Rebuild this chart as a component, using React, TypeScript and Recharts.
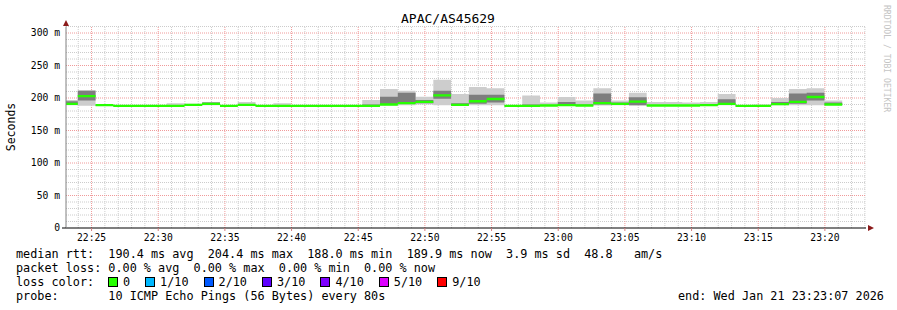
import { ComposedChart, Area, XAxis, YAxis, ReferenceLine } from "recharts"

// time axis is seconds after 22:00:00
const WINDOW_START = 1385
const WINDOW_END = 4985
const FIRST_STEP = 1438
const STEP = 80

const medianRtt = [
  191, 203, 189, 188, 188, 188, 188, 189.5, 191, 188,
  189.5, 188, 188, 188, 188, 188, 188, 188, 190, 192,
  194, 204, 189.5, 195, 198.5, 188, 188, 188.5, 189, 188.5,
  192, 191, 194.5, 188.5, 188.5, 188.5, 189, 191, 188, 188,
  190.5, 194, 201.5, 190,
]
const minRtt = [
  189, 188, 188, 187.5, 187.5, 187.5, 187.5, 188.5, 189, 187.5,
  188.5, 187.5, 187.5, 187.5, 187.5, 187.5, 187.5, 187.5, 188.5, 189,
  190, 189, 188.5, 189, 189, 187.5, 187.5, 188, 188, 188,
  188.5, 189, 188.5, 188, 188, 188, 188, 189, 187.5, 187.5,
  189, 189, 189, 189,
]
const maxRtt = [
  197, 212, 190, 189, 189, 189, 192, 191, 194, 189,
  194, 189, 192, 189, 189, 189, 189, 197, 214, 211,
  202, 228, 206, 217, 215, 189, 204, 193, 201.5, 196,
  215, 196, 208, 194, 194, 193, 194, 206, 189, 190,
  200, 214, 215, 196,
]
const innerLow = [
  190, 196, 188.5, 187.5, 187.5, 187.5, 187.5, 188.5, 190, 187.5,
  189, 187.5, 187.5, 187.5, 187.5, 187.5, 187.5, 187.5, 190, 191,
  192, 199, 188.5, 191, 193, 187.5, 187.5, 188, 188.5, 188,
  190, 190, 189, 188, 188, 188, 188.5, 189.5, 187.5, 187.5,
  189.5, 191, 196, 189.5,
]
const innerHigh = [
  195, 211, 189.5, 188.5, 188.5, 188.5, 189, 189.5, 193, 188.5,
  190, 188.5, 189, 188.5, 188.5, 188.5, 188.5, 190, 202, 208,
  197, 211, 192, 205, 205, 188.5, 190, 189, 194, 190,
  207, 193, 201, 189, 189, 189, 190, 198, 188.5, 188.5,
  194, 207, 208, 193,
]

const timeTicks = [1500, 1800, 2100, 2400, 2700, 3000, 3300, 3600, 3900, 4200, 4500, 4800]
const rttTicks = [0, 50, 100, 150, 200, 250, 300]
const lossLabels = ["0", "1/10", "2/10", "3/10", "4/10", "5/10", "9/10"]
const lossColors = ["#26ff00", "#00b8ff", "#0059ff", "#5e00ff", "#7e00ff", "#dd00ff", "#ff0000"]

const MONO = "'DejaVu Sans Mono', monospace"
const HALF_LINE = 1.8
const MAJOR = "#f09a9a"
const MINOR = "#cccccc"
const CHART_MARGIN = { top: 26.5, right: 31, left: 0, bottom: 52 }

const stepTimes = medianRtt.map((_, i) => (i === 0 ? WINDOW_START : FIRST_STEP + (i - 1) * STEP))
const rows = medianRtt.map((m, i) => ({
  t: stepTimes[i],
  outer: [minRtt[i], maxRtt[i]],
  inner: [innerLow[i], innerHigh[i]],
  med: [m - HALF_LINE, m + HALF_LINE],
}))
const last = rows[rows.length - 1]
rows.push({ ...last, t: FIRST_STEP + (medianRtt.length - 1) * STEP })

const minorX: number[] = []
for (let t = 1440; t < WINDOW_END; t += 60) if (t % 300 !== 0) minorX.push(t)
const minorY: number[] = []
for (let v = 10; v <= 310; v += 10) if (v % 50 !== 0) minorY.push(v)

const fmtTime = (t: number) => {
  const h = 22 + Math.floor(t / 3600)
  const m = Math.floor((t % 3600) / 60)
  return `${h}:${String(m).padStart(2, "0")}`
}

const footerLine = { position: "absolute" as const, left: 16, fontFamily: MONO, fontSize: 11.8, whiteSpace: "pre" as const, lineHeight: "14px", color: "#000" }
const layer = { position: "absolute" as const, left: 0, top: 0 }

// grid lives in its own chart underneath so the smoke covers it
function GridLayer() {
  return (
    <ComposedChart width={897} height={310} data={rows} margin={CHART_MARGIN}>
      <XAxis type="number" dataKey="t" domain={[WINDOW_START, WINDOW_END]} allowDataOverflow height={30} tick={false} axisLine={false} tickLine={false} />
      <YAxis type="number" domain={[0, 310]} allowDataOverflow width={66} tick={false} axisLine={false} tickLine={false} />
      {minorY.map((v) => (
        <ReferenceLine key={`mh${v}`} y={v} stroke={MINOR} strokeDasharray="1 1" />
      ))}
      {minorX.map((t) => (
        <ReferenceLine key={`mv${t}`} x={t} stroke={MINOR} strokeDasharray="1 1" />
      ))}
      {rttTicks.filter((v) => v > 0).map((v) => (
        <ReferenceLine key={`h${v}`} y={v} stroke={MAJOR} strokeDasharray="1 1" />
      ))}
      {timeTicks.map((t) => (
        <ReferenceLine key={`v${t}`} x={t} stroke={MAJOR} strokeDasharray="1 1" />
      ))}
    </ComposedChart>
  )
}

export default function App() {
  return (
    <div style={{ position: "absolute", left: 0, top: 0, width: 897, height: 310, background: "#fff" }}>
      <div style={layer}>
        <GridLayer />
      </div>
      <div style={layer}>
        <ComposedChart width={897} height={310} data={rows} margin={CHART_MARGIN}>
          <XAxis
            type="number"
            dataKey="t"
            domain={[WINDOW_START, WINDOW_END]}
            allowDataOverflow
            ticks={timeTicks}
            tickFormatter={fmtTime}
            height={30}
            tickSize={3}
            tickMargin={3}
            tick={{ fill: "#000", fontSize: 9.7, fontFamily: MONO }}
            axisLine={{ stroke: "#000" }}
            tickLine={{ stroke: "#d08080" }}
          />
          <YAxis
            type="number"
            domain={[0, 310]}
            allowDataOverflow
            ticks={rttTicks}
            tickFormatter={(v: number) => (v === 0 ? "0" : `${v} m`)}
            width={66}
            tickSize={0}
            tickMargin={6}
            tick={{ fill: "#000", fontSize: 9.7, fontFamily: MONO }}
            axisLine={{ stroke: "#808080" }}
            tickLine={false}
          />
          <Area type="stepAfter" dataKey="outer" stroke="none" fill="#cdcdcd" fillOpacity={1} isAnimationActive={false} dot={false} activeDot={false} />
          <Area type="stepAfter" dataKey="inner" stroke="none" fill="#7e7e7e" fillOpacity={1} isAnimationActive={false} dot={false} activeDot={false} />
          <Area type="stepAfter" dataKey="med" stroke="none" fill={lossColors[0]} fillOpacity={1} isAnimationActive={false} dot={false} activeDot={false} />
        </ComposedChart>
      </div>

      <svg width={897} height={310} style={{ ...layer, pointerEvents: "none" }}>
        <text x={448} y={23} textAnchor="middle" fontFamily={MONO} fontSize={13} fill="#000">APAC/AS45629</text>
        <text x={15} y={127} textAnchor="middle" fontFamily={MONO} fontSize={11.5} fill="#000" transform="rotate(-90 15 127)">Seconds</text>
        <text x={884} y={5} fontFamily={MONO} fontSize={8.1} fill="#c4c4c4" transform="rotate(90 884 5)">RRDTOOL / TOBI OETIKER</text>
        <line x1={62} y1={228} x2={66} y2={228} stroke="#000" />
        <polygon points="63,26 69,26 66,20" fill="#8b1a1a" />
        <polygon points="868,225 868,231 874,228" fill="#8b1a1a" />
      </svg>

      <div style={{ ...footerLine, top: 247 }}>{"median rtt:  190.4 ms avg  204.4 ms max  188.0 ms min  189.9 ms now  3.9 ms sd  48.8   am/s"}</div>
      <div style={{ ...footerLine, top: 261 }}>{"packet loss: 0.00 % avg  0.00 % max  0.00 % min  0.00 % now"}</div>
      <div style={{ ...footerLine, top: 275, display: "flex", alignItems: "center" }}>
        <span style={{ width: 92 }}>loss color:</span>
        {lossLabels.map((l, i) => (
          <span key={l} style={{ display: "flex", alignItems: "center" }}>
            <span style={{ width: 8, height: 8, border: "1px solid #000", background: lossColors[i], marginRight: 5 }} />
            <span style={{ marginRight: 15 }}>{l}</span>
          </span>
        ))}
      </div>
      <div style={{ ...footerLine, top: 289 }}>{"probe:       10 ICMP Echo Pings (56 Bytes) every 80s"}</div>
      <div style={{ ...footerLine, top: 289, left: 678 }}>{"end: Wed Jan 21 23:23:07 2026"}</div>
    </div>
  )
}
